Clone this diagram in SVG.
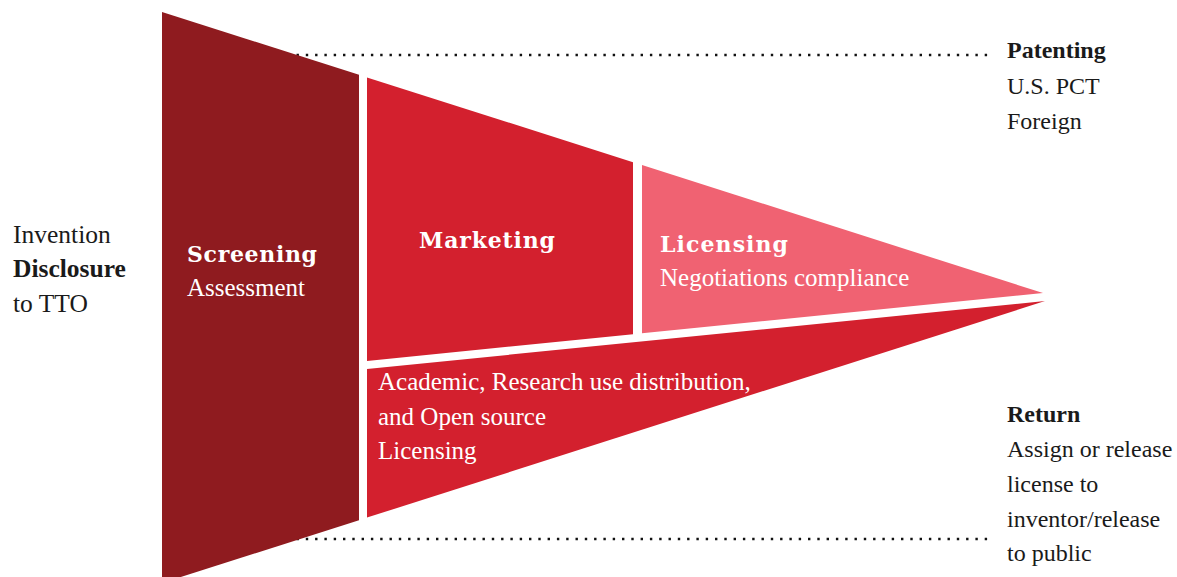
<svg xmlns="http://www.w3.org/2000/svg" width="1177" height="577" viewBox="0 0 1177 577">
  <style>
    .body { font-family: "Liberation Serif", "Times New Roman", serif; font-size: 24px; fill: #1a1a1a; }
    .left { font-size: 25.5px; }
    .strong { font-weight: bold; }
    .inside { font-family: "Liberation Serif", "Times New Roman", serif; font-size: 25px; fill: #ffffff; }
    .stage { font-family: "DejaVu Serif", "Liberation Serif", serif; font-weight: bold; font-size: 22px; fill: #ffffff; }
    .dots { fill: none; stroke: #111111; stroke-width: 2.4; stroke-linecap: butt; stroke-dasharray: 2.4 6.9; }
  </style>

  <rect width="1177" height="577" fill="#ffffff"/>

  <!-- dotted guide lines from the funnel edges to the side notes -->
  <g id="connectors">
    <line class="dots" x1="250" y1="55" x2="988" y2="55"/>
    <line class="dots" x1="250" y1="539" x2="988" y2="539"/>
  </g>

  <g id="invention">
    <text class="body left" x="13" y="243">Invention</text>
    <text class="body left strong" x="13" y="277">Disclosure</text>
    <text class="body left" x="13" y="312">to TTO</text>
  </g>

  <g id="screening">
    <polygon points="162,12 359,74.8 359,520.2 162,583" fill="#8f1b1f"/>
    <text class="stage" x="187" y="262" textLength="130">Screening</text>
    <text class="inside" x="187" y="296">Assessment</text>
  </g>

  <g id="marketing">
    <polygon points="367,77.4 633,162.2 633,334.2 367,361" fill="#d3202e"/>
    <text class="stage" x="419" y="248" textLength="136">Marketing</text>
  </g>

  <g id="licensing">
    <polygon points="642,165.1 1043,293 642,333.3" fill="#f06272"/>
    <text class="stage" x="660" y="252" textLength="128">Licensing</text>
    <text class="inside" x="660" y="286">Negotiations compliance</text>
  </g>

  <g id="open-licensing">
    <polygon points="367,369 1045,301 367,517.6" fill="#d3202e"/>
    <text class="inside" x="378" y="390">Academic, Research use distribution,</text>
    <text class="inside" x="378" y="425">and Open source</text>
    <text class="inside" x="378" y="459">Licensing</text>
  </g>

  <g id="patenting">
    <text class="body strong" x="1007" y="58">Patenting</text>
    <text class="body" x="1007" y="94">U.S. PCT</text>
    <text class="body" x="1007" y="129">Foreign</text>
  </g>

  <g id="return">
    <text class="body strong" x="1007" y="422">Return</text>
    <text class="body" x="1007" y="457">Assign or release</text>
    <text class="body" x="1007" y="492">license to</text>
    <text class="body" x="1007" y="527">inventor/release</text>
    <text class="body" x="1007" y="561">to public</text>
  </g>
</svg>
